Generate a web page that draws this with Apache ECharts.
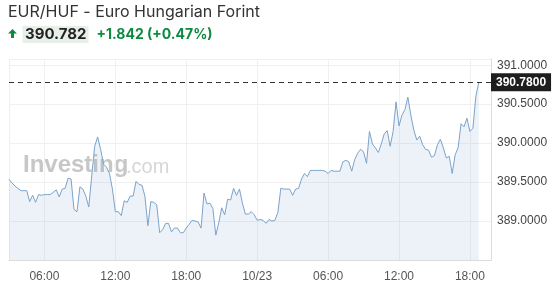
<!DOCTYPE html>
<html>
<head>
<meta charset="utf-8">
<script src="https://cdn.jsdelivr.net/npm/echarts@6/dist/echarts.min.js"></script>
<style>
  html, body { margin: 0; padding: 0; background: #fff; }
  #chart { width: 554px; height: 286px; }
</style>
</head>
<body>
<div id="chart"></div>
<script>
// ---- data ----
const titleText = 'EUR/HUF - Euro Hungarian Forint';
const lastPrice = '390.782';
const changeText = '+1.842 (+0.47%)';
const startTime = [2024, 9, 22, 3, 0];   // 10/22 03:00
const stepMinutes = 15;
const values = [
  389.535, 389.49, 389.45, 389.42, 389.39, 389.39, 389.39, 389.25, 389.33, 389.24,
  389.34, 389.33, 389.34, 389.34, 389.34, 389.37, 389.40, 389.31, 389.41, 389.42,
  389.55, 389.54, 389.15, 389.12, 389.44, 389.41, 389.32, 389.18, 389.58, 389.96,
  390.08, 389.92, 389.73, 389.69, 389.61, 389.41, 389.12, 389.12, 389.07, 389.26,
  389.24, 389.32, 389.32, 389.51, 389.47, 389.46, 389.32, 388.94, 389.25, 389.24,
  389.21, 388.85, 388.89, 388.97, 388.97, 388.86, 388.91, 388.91, 388.85, 388.85,
  388.91, 388.96, 389.01, 389.00, 388.99, 388.91, 389.36, 389.22, 389.23, 389.16,
  388.82, 388.98, 389.17, 389.08, 389.28, 389.27, 389.42, 389.33, 389.41, 389.23,
  389.09, 389.09, 389.12, 389.08, 389.01, 389.02, 389.01, 388.97, 389.02, 389.00,
  389.01, 389.11, 389.42, 389.41, 389.41, 389.41, 389.33, 389.41, 389.42, 389.54,
  389.61, 389.57, 389.65, 389.65, 389.65, 389.65, 389.65, 389.64, 389.61, 389.65,
  389.64, 389.64, 389.64, 389.76, 389.78, 389.76, 389.64, 389.79, 389.87, 389.92,
  389.89, 389.74, 390.15, 389.99, 389.94, 389.88, 389.99, 390.12, 390.16, 389.96,
  390.15, 390.53, 390.22, 390.36, 390.43, 390.59, 390.36, 390.17, 390.04, 390.09,
  389.98, 389.92, 389.91, 389.82, 389.84, 389.98, 390.05, 389.94, 389.81, 389.83,
  389.61, 389.85, 389.94, 390.25, 390.21, 390.32, 390.15, 390.19, 390.60, 390.78
];
const markValue = 390.78;
const yTickMin = 388.5, yTickMax = 391.08, yTickStep = 0.5;

// ---- build ----
const t0 = new Date(startTime[0], startTime[1], startTime[2], startTime[3], startTime[4]).getTime();
const seriesData = values.map((v, i) => [t0 + i * stepMinutes * 60000, v]);
const xMax = new Date(2024, 9, 23, 19, 47).getTime();
const pad = n => (n < 10 ? '0' : '') + n;
const GREEN = '#0d8a3f';

const chart = echarts.init(document.getElementById('chart'), null, { renderer: 'canvas' });
chart.setOption({
  animation: false,
  backgroundColor: '#fff',
  grid: { left: 9, right: 63, top: 59, bottom: 26 },
  xAxis: {
    type: 'time',
    min: t0,
    max: xMax,
    splitNumber: 6,
    axisLine: { show: true, lineStyle: { color: '#dcdcdc' } },
    axisTick: { show: false },
    axisLabel: {
      showMinLabel: false, showMaxLabel: false,
      margin: 11,
      color: '#555', fontSize: 12, fontFamily: 'Liberation Sans, Arial',
      formatter: function (val) {
        const d = new Date(val);
        if (d.getHours() === 0 && d.getMinutes() === 0) return pad(d.getMonth() + 1) + '/' + pad(d.getDate());
        return pad(d.getHours()) + ':' + pad(d.getMinutes());
      }
    },
    splitLine: { show: true, lineStyle: { color: '#f0f0f0' } }
  },
  yAxis: {
    type: 'value',
    position: 'right',
    min: yTickMin, max: yTickMax, interval: yTickStep,
    axisLine: { show: true, lineStyle: { color: '#dcdcdc' } },
    axisTick: { show: false },
    axisLabel: {
      showMinLabel: false, showMaxLabel: false,
      margin: 6, color: '#444', fontSize: 12, fontFamily: 'Liberation Sans, Arial',
      formatter: v => v.toFixed(4)
    },
    splitLine: { show: true, lineStyle: { color: '#f0f0f0' } }
  },
  series: [{
    type: 'line',
    data: seriesData,
    showSymbol: false,
    lineStyle: { color: '#7ba3cc', width: 1 },
    areaStyle: { color: 'rgba(120,160,200,0.2)', origin: 'start' },
    markLine: {
      silent: true,
      symbol: ['none', 'none'],
      lineStyle: { color: '#333', type: [5, 4], width: 1 },
      label: {
        position: 'end', distance: 0,
        formatter: markValue.toFixed(4),
        backgroundColor: '#1e1e1e', color: '#fff',
        padding: [3, 5, 3, 5], fontSize: 12, fontWeight: 'bold',
        fontFamily: 'Liberation Sans, Arial'
      },
      data: [{ yAxis: markValue }]
    }
  }],
  graphic: [
    { type: 'text', left: 8, top: 4, style: { text: titleText, font: '16px Inter', fill: '#333' } },
    { type: 'polygon', shape: { points: [[12.5, 29], [17, 33.5], [14, 33.5], [14, 38], [11, 38], [11, 33.5], [8, 33.5]] }, style: { fill: GREEN } },
    { type: 'rect', shape: { x: 22.5, y: 26, width: 66, height: 17 }, style: { fill: '#e7efe9' } },
    { type: 'text', x: 25, y: 34.5, style: { text: lastPrice, font: 'bold 15px Inter', fill: '#222', verticalAlign: 'middle' } },
    { type: 'text', x: 96.5, y: 34.5, style: { text: changeText, font: 'bold 14px Inter', fill: GREEN, verticalAlign: 'middle' } },
    { type: 'text', x: 23, y: 165, z: -1, style: { text: 'Investing', font: 'bold 24px Liberation Sans', fill: 'rgba(175,175,175,0.7)', verticalAlign: 'middle' } },
    { type: 'text', x: 126, y: 167, z: -1, style: { text: '.com', font: '20px Liberation Sans', fill: 'rgba(185,185,185,0.6)', verticalAlign: 'middle' } }
  ]
});
</script>
</body>
</html>
